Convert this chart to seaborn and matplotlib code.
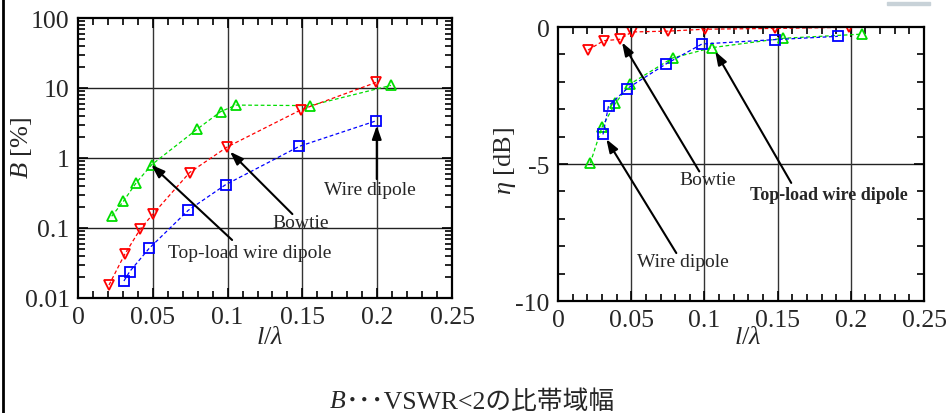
import matplotlib
matplotlib.use("Agg")
import matplotlib.pyplot as plt
import matplotlib.ticker as mticker
from matplotlib.lines import Line2D
from matplotlib.patches import Rectangle
import seaborn as sns
import pandas as pd

# data
wire_x = [0.0307, 0.0345, 0.0475, 0.0737, 0.0987, 0.148, 0.199]
wire_B = [0.0175, 0.0238, 0.051, 0.179, 0.416, 1.47, 3.38]
bowtie_x = [0.0207, 0.0312, 0.0417, 0.0501, 0.0746, 0.0998, 0.1488, 0.1992]
bowtie_B = [0.0153, 0.042, 0.097, 0.158, 0.62, 1.44, 4.85, 12.0]
topload_x = [0.0225, 0.0303, 0.0388, 0.0492, 0.0798, 0.0954, 0.1056, 0.155, 0.2092]
topload_B = [0.147, 0.24, 0.44, 0.80, 2.6, 4.6, 5.7, 5.6, 10.9]

wire_x2 = [0.0307, 0.0345, 0.0471, 0.0737, 0.0983, 0.1479, 0.1911]
wire_eta = [-3.92, -2.88, -2.25, -1.35, -0.62, -0.46, -0.34]
bowtie_x2 = [0.0205, 0.0311, 0.042, 0.0505, 0.0751, 0.1001, 0.1485, 0.1988]
bowtie_eta = [-0.84, -0.50, -0.45, -0.18, -0.15, -0.08, -0.05, -0.01]
topload_x2 = [0.022, 0.030, 0.0391, 0.0489, 0.0782, 0.1055, 0.154, 0.2075]
topload_eta = [-4.97, -3.66, -2.79, -2.09, -1.13, -0.75, -0.41, -0.26]

x_ticks = [0, 0.05, 0.1, 0.15, 0.2, 0.25]
x_ticklabels = ["0", "0.05", "0.1", "0.15", "0.2", "0.25"]
B_ticks = [0.01, 0.1, 1, 10, 100]
B_ticklabels = ["0.01", "0.1", "1", "10", "100"]
eta_ticks = [-10, -5, 0]
eta_ticklabels = ["-10", "-5", "0"]

sns.set_style("ticks")
plt.rcParams["font.family"] = ["Liberation Serif", "Noto Sans CJK JP"]
plt.rcParams["mathtext.fontset"] = "custom"
plt.rcParams["mathtext.rm"] = "Liberation Serif"
plt.rcParams["mathtext.it"] = "Liberation Serif:italic"
plt.rcParams["axes.unicode_minus"] = False

fig = plt.figure(figsize=(9.49, 4.14), dpi=100)
ax1 = fig.add_axes([0.0822, 0.2778, 0.3941, 0.6763])
ax2 = fig.add_axes([0.588, 0.2705, 0.3857, 0.6618])

RED, GREEN, BLUE = "#ff0000", "#00dd00", "#0000ff"


def curve(ax, xs, ys, color, marker):
    df = pd.DataFrame({"x": xs, "y": ys})
    sns.lineplot(data=df, x="x", y="y", ax=ax, sort=False, estimator=None,
                 color=color, linestyle=(0, (3, 2)), linewidth=0.9,
                 marker=marker, markersize=7, markerfacecolor="none",
                 markeredgecolor=color, markeredgewidth=1.3)


curve(ax1, topload_x, topload_B, GREEN, "^")
curve(ax1, bowtie_x, bowtie_B, RED, "v")
curve(ax1, wire_x, wire_B, BLUE, "s")

curve(ax2, topload_x2, topload_eta, GREEN, "^")
curve(ax2, bowtie_x2, bowtie_eta, RED, "v")
curve(ax2, wire_x2, wire_eta, BLUE, "s")

ax1.set_yscale("log")
ax1.set_xlim(0, 0.25)
ax1.set_ylim(0.01, 100)
ax1.set_yticks(B_ticks)
ax1.set_yticklabels(B_ticklabels)
ax1.yaxis.set_minor_locator(mticker.LogLocator(base=10, subs=range(2, 10), numticks=20))
ax1.yaxis.set_minor_formatter(mticker.NullFormatter())
for v in [1e-1, 1, 10]:
    ax1.axhline(v, color="#222222", lw=1.0, zorder=0)

ax2.set_xlim(0, 0.25)
ax2.set_ylim(-10, 0)
ax2.set_yticks(eta_ticks)
ax2.set_yticklabels(eta_ticklabels)
ax2.yaxis.set_minor_locator(mticker.MultipleLocator(1))
ax2.axhline(-5, color="#222222", lw=1.0, zorder=0)

for ax in (ax1, ax2):
    ax.set_xticks(x_ticks)
    ax.set_xticklabels(x_ticklabels)
    ax.xaxis.set_minor_locator(mticker.MultipleLocator(0.01))
    for v in [0.05, 0.1, 0.15, 0.2]:
        ax.axvline(v, color="#333333", lw=1.0, zorder=0)
    ax.tick_params(which="both", direction="in", top=True, right=True,
                   width=1.2, labelsize=18.5, color="black")
    ax.tick_params(which="major", length=7, pad=6)
    ax.tick_params(which="minor", length=5)
    for s in ax.spines.values():
        s.set_linewidth(1.6)
        s.set_color("black")
    ax.set_xlabel(r"$l/\lambda$", fontsize=19)

ax1.set_ylabel(r"$B$ [%]", fontsize=19)
ax2.set_ylabel(r"$\eta$ [dB]", fontsize=19)
ax1.yaxis.set_label_coords(-0.118, 0.54)
ax2.yaxis.set_label_coords(-0.108, 0.515)
ax1.xaxis.set_label_coords(0.513, -0.1)
ax2.xaxis.set_label_coords(0.519, -0.091)

arrow = dict(arrowstyle="-|>,head_length=0.8,head_width=0.28", color="black",
             lw=1.5, shrinkA=0, shrinkB=0)

# left panel annotations
ax1.annotate("", xy=(0.049, 0.80), xytext=(0.103, 0.0674), arrowprops=arrow)
ax1.text(0.115, 0.045, "Top-load wire dipole", fontsize=14, ha="center", va="center")
ax1.annotate("", xy=(0.1016, 1.23), xytext=(0.1433, 0.158), arrowprops=arrow)
ax1.text(0.149, 0.118, "Bowtie", fontsize=14, ha="center", va="center")
ax1.annotate("", xy=(0.1997, 2.9), xytext=(0.1997, 0.5), arrowprops=arrow)
ax1.text(0.195, 0.355, "Wire dipole", fontsize=14, ha="center", va="center")

# right panel annotations
ax2.annotate("", xy=(0.0437, -0.56), xytext=(0.0965, -5.27), arrowprops=arrow)
ax2.text(0.102, -5.55, "Bowtie", fontsize=14, ha="center", va="center")
ax2.annotate("", xy=(0.1074, -0.89), xytext=(0.1593, -5.69), arrowprops=arrow)
ax2.text(0.185, -6.1, "Top-load wire dipole", fontsize=13, fontweight="bold",
         ha="center", va="center")
ax2.annotate("", xy=(0.033, -4.09), xytext=(0.0808, -8.25), arrowprops=arrow)
ax2.text(0.0855, -8.55, "Wire dipole", fontsize=14, ha="center", va="center")

# caption
fig.text(0.3646, 0.029, "B", fontsize=18.5, style="italic", ha="right", va="center",
         family="Liberation Serif")
fig.text(0.3646, 0.029, "･･･VSWR<2の比帯域幅", fontsize=18.5, ha="left", va="center",
         family=["Liberation Serif", "Noto Sans CJK JP"])

# left border line and small grey mark at top right
fig.add_artist(Line2D([0.003, 0.003], [0, 1], color="black", lw=2, transform=fig.transFigure))
fig.add_artist(Rectangle((887 / 949, 1 - 6 / 414), 43 / 949, 3 / 414, color="#c8d2d8",
                         transform=fig.transFigure))

plt.savefig("out.png", dpi=100)
